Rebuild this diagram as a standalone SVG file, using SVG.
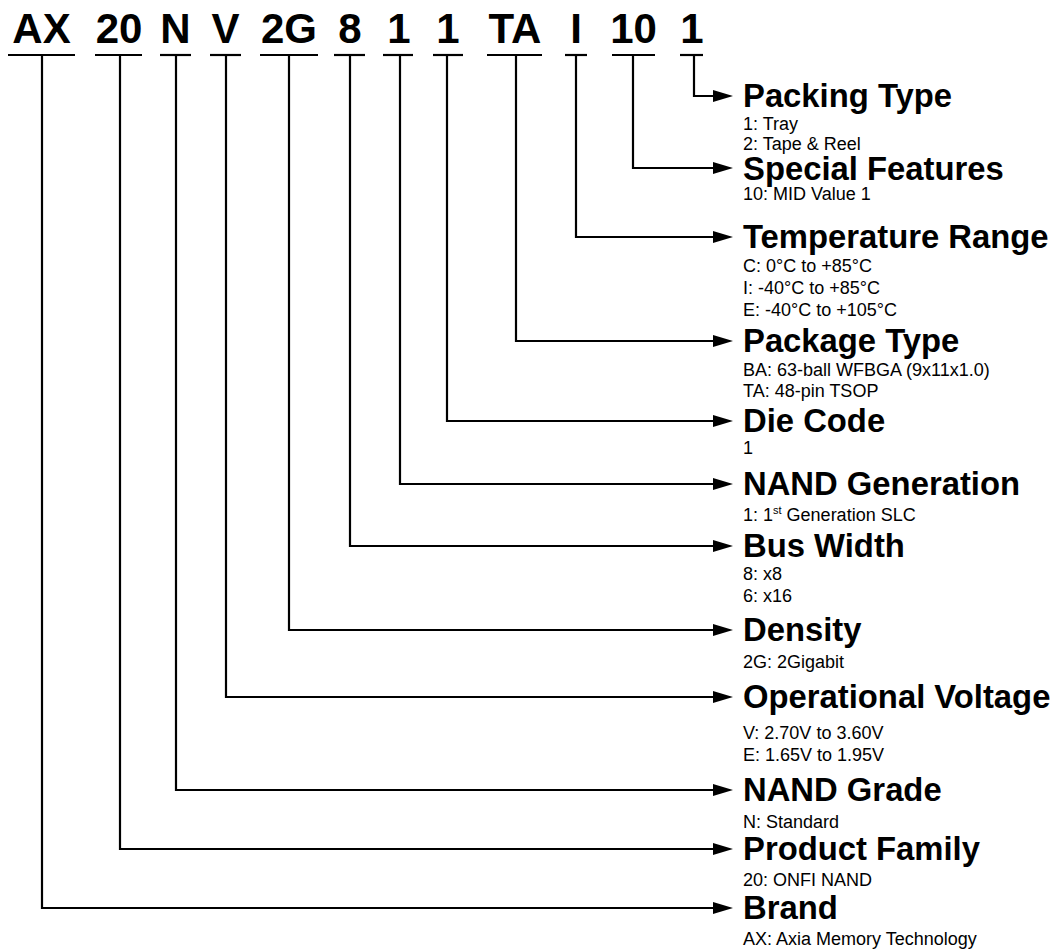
<svg xmlns="http://www.w3.org/2000/svg" width="1059" height="950" viewBox="0 0 1059 950">
<style>
.code{font-family:"Liberation Sans",Arial,sans-serif;font-weight:bold;font-size:42px;fill:#000;text-anchor:middle}
.ul{stroke:#000;stroke-width:2.2}
.head{font-family:"Liberation Sans",Arial,sans-serif;font-weight:bold;font-size:32.8px;fill:#000}
.sub{font-family:"Liberation Sans",Arial,sans-serif;font-size:18px;fill:#000}
.con{fill:none;stroke:#000;stroke-width:2.2;marker-end:url(#arr)}
</style>
<defs>
<marker id="arr" markerUnits="userSpaceOnUse" markerWidth="22" markerHeight="14" refX="2" refY="6" orient="auto">
<path d="M0,0 L20,6 L0,12 z" fill="#000"/>
</marker>
</defs>
<rect width="1059" height="950" fill="#fff"/>
<g id="code">
<g id="c-ax"><text class="code" x="41.5" y="43">AX</text><line class="ul" x1="8" y1="55" x2="75" y2="55"/></g>
<g id="c-20"><text class="code" x="119" y="43">20</text><line class="ul" x1="95" y1="55" x2="142" y2="55"/></g>
<g id="c-n"><text class="code" x="175.5" y="43">N</text><line class="ul" x1="160" y1="55" x2="191" y2="55"/></g>
<g id="c-v"><text class="code" x="225.5" y="43">V</text><line class="ul" x1="210" y1="55" x2="241" y2="55"/></g>
<g id="c-2g"><text class="code" x="289" y="43">2G</text><line class="ul" x1="260" y1="55" x2="318" y2="55"/></g>
<g id="c-8"><text class="code" x="350" y="43">8</text><line class="ul" x1="334" y1="55" x2="365" y2="55"/></g>
<g id="c-1a"><text class="code" x="399" y="43">1</text><line class="ul" x1="383" y1="55" x2="413" y2="55"/></g>
<g id="c-1b"><text class="code" x="448" y="43">1</text><line class="ul" x1="433" y1="55" x2="463" y2="55"/></g>
<g id="c-ta"><text class="code" x="515" y="43">TA</text><line class="ul" x1="487" y1="55" x2="542" y2="55"/></g>
<g id="c-i"><text class="code" x="576" y="43">I</text><line class="ul" x1="565" y1="55" x2="587" y2="55"/></g>
<g id="c-10"><text class="code" x="633.5" y="43">10</text><line class="ul" x1="612" y1="55" x2="655" y2="55"/></g>
<g id="c-1c"><text class="code" x="692" y="43">1</text><line class="ul" x1="680" y1="55" x2="703" y2="55"/></g>
</g>
<g id="connectors">
<polyline class="con" points="694,55 694,96 715,96"/>
<polyline class="con" points="633,55 633,168 715,168"/>
<polyline class="con" points="576,55 576,237 715,237"/>
<polyline class="con" points="516,55 516,341 715,341"/>
<polyline class="con" points="447,55 447,421 715,421"/>
<polyline class="con" points="400,55 400,484 715,484"/>
<polyline class="con" points="350,55 350,546 715,546"/>
<polyline class="con" points="289,55 289,630 715,630"/>
<polyline class="con" points="226,55 226,697 715,697"/>
<polyline class="con" points="176,55 176,790 715,790"/>
<polyline class="con" points="120,55 120,849 715,849"/>
<polyline class="con" points="42,55 42,908 715,908"/>
</g>
<g id="packing-type"><text class="head" x="743" y="107">Packing Type</text><text class="sub" x="743" y="130">1: Tray</text><text class="sub" x="743" y="150">2: Tape &amp; Reel</text></g>
<g id="special-features"><text class="head" x="743" y="180">Special Features</text><text class="sub" x="743" y="200">10: MID Value 1</text></g>
<g id="temperature-range"><text class="head" x="743" y="248">Temperature Range</text><text class="sub" x="743" y="272">C: 0°C to +85°C</text><text class="sub" x="743" y="294">I: -40°C to +85°C</text><text class="sub" x="743" y="316">E: -40°C to +105°C</text></g>
<g id="package-type"><text class="head" x="743" y="352">Package Type</text><text class="sub" x="743" y="376">BA: 63-ball WFBGA (9x11x1.0)</text><text class="sub" x="743" y="397">TA: 48-pin TSOP</text></g>
<g id="die-code"><text class="head" x="743" y="432">Die Code</text><text class="sub" x="743" y="454">1</text></g>
<g id="nand-generation"><text class="head" x="743" y="495">NAND Generation</text><text class="sub" x="743" y="521">1: 1<tspan font-size="11" dy="-7">st</tspan><tspan dy="7"> Generation SLC</tspan></text></g>
<g id="bus-width"><text class="head" x="743" y="557">Bus Width</text><text class="sub" x="743" y="580">8: x8</text><text class="sub" x="743" y="602">6: x16</text></g>
<g id="density"><text class="head" x="743" y="641">Density</text><text class="sub" x="743" y="668">2G: 2Gigabit</text></g>
<g id="operational-voltage"><text class="head" x="743" y="708">Operational Voltage</text><text class="sub" x="743" y="739">V: 2.70V to 3.60V</text><text class="sub" x="743" y="761">E: 1.65V to 1.95V</text></g>
<g id="nand-grade"><text class="head" x="743" y="801">NAND Grade</text><text class="sub" x="743" y="828">N: Standard</text></g>
<g id="product-family"><text class="head" x="743" y="860">Product Family</text><text class="sub" x="743" y="886">20: ONFI NAND</text></g>
<g id="brand"><text class="head" x="743" y="919">Brand</text><text class="sub" x="743" y="945">AX: Axia Memory Technology</text></g>
</svg>
